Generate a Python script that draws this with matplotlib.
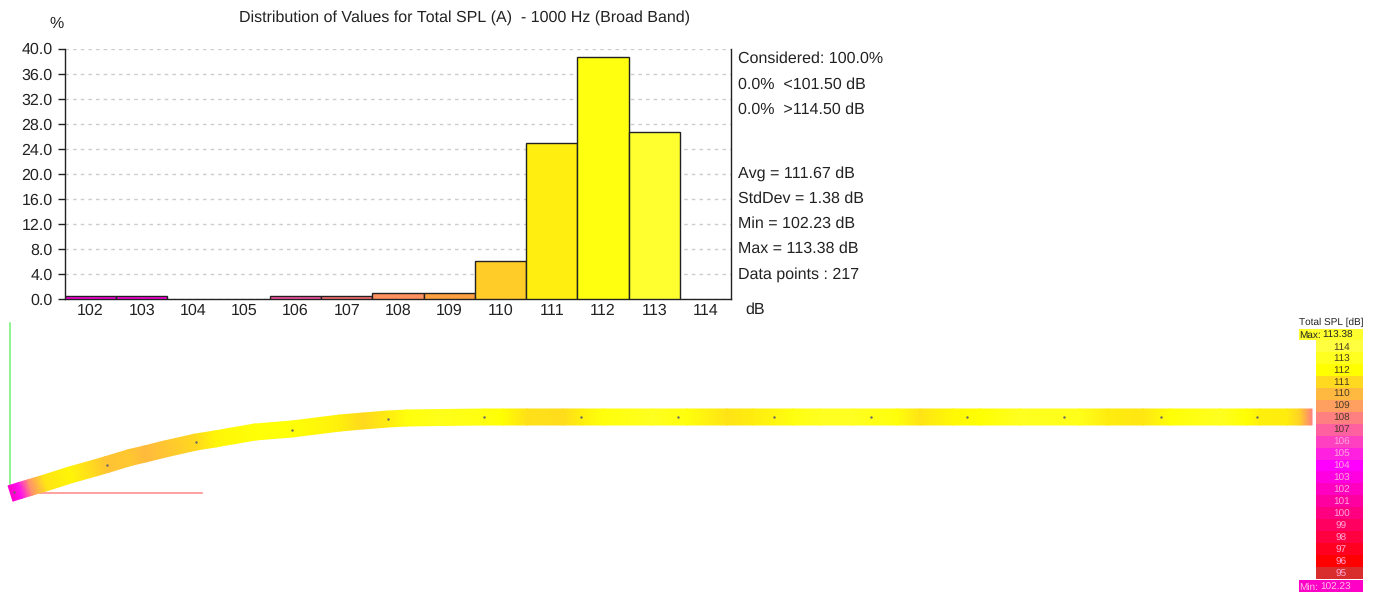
import numpy as np
import matplotlib
matplotlib.use("Agg")
import matplotlib.pyplot as plt
from matplotlib.colors import LinearSegmentedColormap, Normalize
from matplotlib.patches import Rectangle

plt.rcParams['font.family'] = ['Liberation Sans', 'DejaVu Sans']
plt.rcParams['text.hinting'] = 'no_hinting'
plt.rcParams['text.hinting_factor'] = 1

W, H = 1376, 592
title = "Distribution of Values for Total SPL (A)  - 1000 Hz (Broad Band)"
bins = [102, 103, 104, 105, 106, 107, 108, 109, 110, 111, 112, 113, 114]
pct = [0.46, 0.46, 0, 0, 0.46, 0.46, 0.92, 0.92, 5.99, 24.88, 38.71, 26.73, 0]
bar_colors = ['#ff00e0', '#ff00e0', '#ff00ff', '#ff20e0', '#ff50a0', '#ff7070', '#ff9060',
              '#ffa040', '#ffcc28', '#ffee10', '#ffff10', '#ffff30', '#ffff40']
yticks = [0, 4, 8, 12, 16, 20, 24, 28, 32, 36, 40]
stats_top = ["Considered: 100.0%", "0.0%  <101.50 dB", "0.0%  >114.50 dB"]
stats_bottom = ["Avg = 111.67 dB", "StdDev = 1.38 dB", "Min = 102.23 dB",
                "Max = 113.38 dB", "Data points : 217"]

levels = [95, 96, 97, 98, 99, 100, 101, 102, 103, 104, 105, 106, 107, 108, 109, 110, 111, 112, 113, 114]
level_colors = ['#d92c2c', '#ff0000', '#ff0020', '#ff0040', '#ff0060', '#ff0080', '#ff00a0',
                '#ff00c0', '#ff00e0', '#ff00ff', '#ff20e0', '#ff40c0', '#ff60a0', '#ff8080',
                '#ffa060', '#ffb840', '#ffd820', '#ffff00', '#ffff20', '#ffff40']
spl_max, spl_min = 113.38, 102.23

strip_x = [10.5, 20, 30, 45, 70, 95, 107, 130, 145, 165, 196, 215, 255, 292, 340, 363, 388, 407, 440,
           485, 503, 527, 563, 582, 603, 653, 687, 727, 753, 793, 820, 853, 897, 920, 953, 980,
           1020, 1080, 1107, 1143, 1170, 1220, 1247, 1260, 1287, 1300, 1312]
strip_y = [493.5, 490.5, 487.5, 483, 475, 468, 464.5, 457.5, 454, 449, 442, 439, 432, 429, 423, 421, 419, 418, 417.5,
           417, 417, 417, 417, 417, 417, 417, 417, 417, 417, 417, 417, 417, 417, 417, 417, 417,
           417, 417, 417, 417, 417, 417, 417, 417, 417, 417, 417]
strip_spl = [102.3, 104.5, 108.5, 111.3, 111.7, 110.9, 110.3, 110.5, 110, 110.4, 111, 111.7, 112.2, 112.2, 111.6, 111, 111.5, 112.3, 112.8,
             112.5, 112, 111.2, 111.1, 111.6, 112.3, 113, 112.3, 111.3, 111.5, 112.5, 113, 113, 112.3, 111.3, 111.8, 112,
             113, 112.8, 111.5, 111.4, 112.2, 113, 112, 111.6, 111.5, 110.8, 108]
node_x = [14, 107, 196, 292, 388, 484, 581, 677.5, 774, 871, 967, 1064, 1161, 1257]
node_y = [492, 465, 442, 430, 419, 417, 417, 417, 417, 417, 417, 417, 417, 417]

fig = plt.figure(figsize=(W / 100, H / 100), dpi=100, facecolor='white')

def px_axes(l, t, r, b):
    return fig.add_axes([l / W, 1 - b / H, (r - l) / W, (b - t) / H])

# Histogram
ax = px_axes(65, 48.5, 731, 299)
ax.set_xlim(101.5, 114.5)
ax.set_ylim(0, 40)
ax.set_yticks(yticks)
ax.set_yticklabels([f"{v:.1f}" for v in yticks], fontsize=11.2, color='#222222')
ax.set_xticks(bins)
ax.set_xticklabels([str(b) for b in bins], fontsize=11.2, color='#222222')
ax.tick_params(axis='y', length=5, width=1, color='#222222', pad=4)
ax.tick_params(axis='x', length=0, pad=3)
ax.grid(axis='y', color='#cccccc', linestyle=(0, (2.5, 3)), linewidth=1)
ax.set_axisbelow(True)
ax.spines['top'].set_visible(False)
for s in ('left', 'right', 'bottom'):
    ax.spines[s].set_color('#222222')
    ax.spines[s].set_linewidth(1)
for b, p, c in zip(bins, pct, bar_colors):
    if p > 0:
        ax.bar(b, p, width=1, color=c, edgecolor='#222222', linewidth=1, zorder=3)

# Overlay in pixel coordinates
ov = fig.add_axes([0, 0, 1, 1], facecolor='none')
ov.set_xlim(0, W)
ov.set_ylim(H, 0)
ov.axis('off')

def label(x, y, s, size=11.3, ha='left', color='#222222', **kw):
    ov.text(x, y, s, fontsize=size, ha=ha, va='center', color=color, **kw)

label(464.5, 17.5, title, ha='center')
label(57, 24, "%", ha='center')
label(745, 310, "dB")
for y, s in zip([59, 84.5, 110], stats_top):
    label(738, y, s)
for y, s in zip([174, 199, 224, 249, 275], stats_bottom):
    label(738, y, s)

# Reference lines
ov.plot([9.5, 9.5], [323, 488], color='#70f070', lw=1.1, zorder=1)
ov.plot([40, 202], [493, 493], color='#ff9090', lw=1.2, zorder=1)

# Strip
cmap = LinearSegmentedColormap.from_list('spl', list(zip(np.linspace(0, 1, len(levels)), level_colors)))
norm = Normalize(min(levels), max(levels))
sx = np.array(strip_x, float)
sy = np.array(strip_y, float)
dx, dy = np.gradient(sx), np.gradient(sy)
ln = np.hypot(dx, dy)
nx, ny = -dy / ln, dx / ln
half = 8
X = np.vstack([sx - half * nx, sx + half * nx])
Y = np.vstack([sy - half * ny, sy + half * ny])
C = np.vstack([strip_spl, strip_spl])
ov.pcolormesh(X, Y, C, shading='gouraud', cmap=cmap, norm=norm, zorder=2)
ov.scatter(node_x, node_y, s=3, color='#666666', linewidths=0, zorder=3)

# Colour legend
label(1331, 322.5, "Total SPL [dB]", size=7.4, ha='center')
for lev, c in zip(levels, level_colors):
    y = 346 + (114 - lev) * 11.95
    ov.add_patch(Rectangle((1316, y - 6), 47, 11.95, facecolor=c, edgecolor='none', zorder=2))
    tc = '#4a3a20' if lev >= 107 else '#ffa8d8'
    label(1341.5, y + 1, str(lev), size=7.4, ha='center', color=tc, zorder=4)
ov.add_patch(Rectangle((1299, 329), 64, 11, facecolor=cmap(norm(spl_max)), edgecolor='none', zorder=2))
ov.add_patch(Rectangle((1299, 580), 64, 12, facecolor=cmap(norm(spl_min)), edgecolor='none', zorder=2))
label(1299.5, 335.5, "Max:", size=7.4, zorder=4)
label(1353, 335.5, f"{spl_max:.2f}", size=7.4, ha='right', zorder=4)
label(1299.5, 587, "Min:", size=7.4, color='#ffc0e8', zorder=4)
label(1351, 587, f"{spl_min:.2f}", size=7.4, ha='right', color='#ffc0e8', zorder=4)

fig.savefig('out.png', dpi=100)
